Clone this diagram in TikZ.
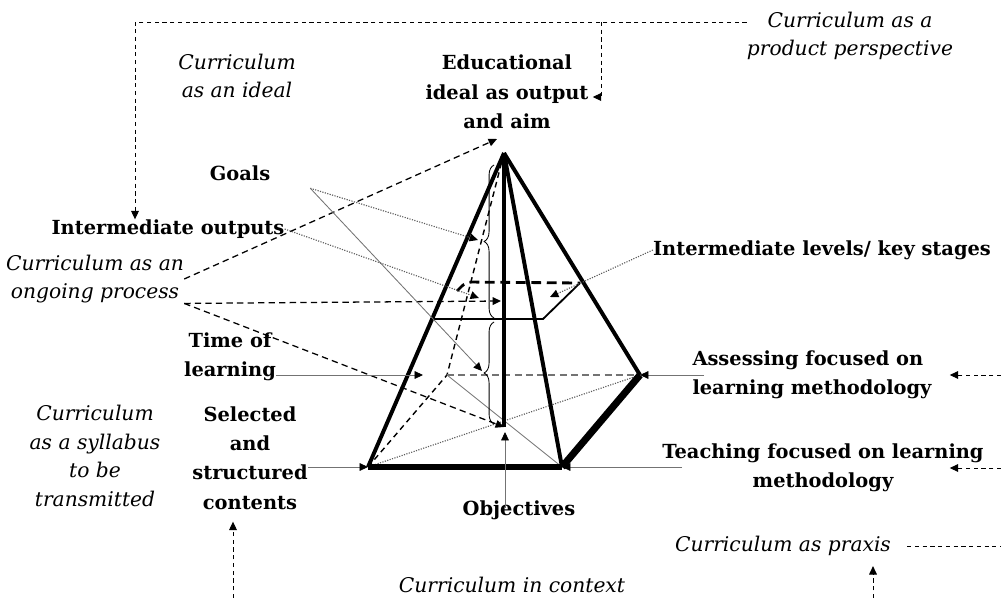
\documentclass[tikz,border=0pt]{standalone}
\usepackage{fontspec}
\setmainfont{DejaVu Serif}
\usetikzlibrary{arrows.meta,decorations.pathreplacing}

\begin{document}
\begin{tikzpicture}[
  x=0.025cm, y=-0.025cm,
  lbl/.style ={align=center, inner sep=0pt, font=\fontsize{13.8}{20.8}\selectfont\bfseries},
  ital/.style={align=center, inner sep=0pt, font=\fontsize{14.4}{20.2}\selectfont\itshape},
  outline/.style={line width=2.8pt},
  hidden/.style={line width=1pt, dash pattern=on 4pt off 3pt},
  tip/.style={-{Triangle[length=6pt,width=5.5pt,color=black]}},
  lead/.style={tip, draw=black!55, line width=0.6pt},
  dotlead/.style={tip, draw=black!65, densely dotted, line width=0.8pt},
  dashlead/.style={tip, line width=0.7pt, dash pattern=on 3pt off 2.5pt},
  ongo/.style={tip, line width=0.9pt, dash pattern=on 4.5pt off 3pt},
  brc/.style={decorate, decoration={brace, amplitude=7pt}, line width=0.6pt}
]
\useasboundingbox (0,0) rectangle (1001,598);

\coordinate (A)  at (504,153);
\coordinate (BL) at (368,467);
\coordinate (BR) at (562,467);
\coordinate (R)  at (640,375);
\coordinate (BK) at (447,375);
\coordinate (C)  at (504,427);
\coordinate (XL) at (430,319);
\coordinate (XF) at (543,319);
\coordinate (XR) at (580,283);
\coordinate (XB) at (466,282);
\coordinate (XK) at (457,291);

\node[ital] (ideal)    at (237,76)  {Curriculum\\as an ideal};
\node[ital] (product)  at (850,36)  {Curriculum as a\\product perspective};
\node[lbl]  (educ)     at (507,92)  {Educational\\ideal as output\\and aim};
\node[lbl, minimum width=3.5cm, minimum height=0.75cm] (goals) at (240,173) {Goals};
\node[lbl]  (interout) at (168,229) {Intermediate outputs};
\node[ital] (ongoing)  at (95,279)  {Curriculum as an\\ongoing process};
\node[lbl]  (levels)   at (822,250) {Intermediate levels/ key stages};
\node[lbl]  (time)     at (230,357) {Time of\\learning};
\node[lbl, align=left] (assess) at (812,375) {Assessing focused on\\learning methodology};
\node[ital] (syllabus) at (95,456)  {Curriculum\\as a syllabus\\to be\\transmitted};
\node[lbl]  (selected) at (250,458) {Selected\\and\\structured\\contents};
\node[lbl]  (teach)    at (823,468) {Teaching focused on learning\\methodology};
\node[lbl]  (obj)      at (519,510) {Objectives};
\node[ital] (praxis)   at (783,546) {Curriculum as praxis};
\node[ital] (context)  at (512,585) {Curriculum in context};

\draw[hidden] (BL) -- (BK) -- (A);
\draw[black!55, line width=1.3pt, dash pattern=on 5pt off 3pt] (BK) -- (R);
\draw[black!55, line width=0.6pt] (BK) -- (BR);
\draw[black!65, densely dotted, line width=0.8pt] (BL) -- (R);

\draw[brc] (494,318) -- (494,165);
\draw[brc] (494,424) -- (494,322);

\draw[outline] (A) -- (BL);
\draw[outline] (A) -- (BR);
\draw[outline] (A) -- (R);
\draw[outline] (A) -- (C);
\draw[line width=4.2pt] (BL) -- (BR);
\draw[line width=5pt] (BR) -- (R);
\draw[line width=1.3pt] (XL) -- (XF) -- (XR);
\draw[line width=2pt, dash pattern=on 7pt off 4pt, rounded corners=4pt] (XK) -- (XB) -- (XR);

\coordinate (topL) at (135,22);
\coordinate (topM) at (601,22);
\coordinate (turn) at (601,97);
\draw[dashlead] (product.west |- topL) -- (topL) -- (interout.north -| topL);
\draw[dashlead] (topM) -- (turn) -- ([xshift=1mm]educ.east |- turn);

\coordinate (Atop) at (497,139);
\coordinate (mid)  at (501,301);
\draw[ongo] (ongoing.east) -- (Atop);
\draw[ongo] (ongoing.south east) -- (mid);
\draw[ongo] (ongoing.south east) -- (C);

\draw[dotlead] (goals.south east) -- (478,240);
\draw[lead]    (goals.south east) -- (482,371);
\draw[dotlead] (interout.east) -- (479,298);
\draw[dotlead] (levels.west) -- (550,297);

\coordinate (Tl) at (423,375);
\draw[lead] (time.east |- Tl) -- (Tl);
\draw[lead] (selected.east |- BL) -- (BL);
\coordinate (Cup) at (505,432);
\draw[lead] ([yshift=-2mm]obj.north -| Cup) -- (Cup);
\draw[lead, shorten <=-3mm] (assess.west |- R) -- (R);
\draw[lead, shorten <=-5mm] (teach.west |- BR) -- (BR);

\coordinate (rA) at (1001,375);
\coordinate (rT) at (1001,468);
\draw[dashlead, shorten >=4.5mm] (rA) -- (assess.east |- rA);
\draw[dashlead, shorten >=4.5mm] (rT) -- (assess.east |- rT);
\draw[line width=0.7pt, dash pattern=on 3pt off 2.5pt, shorten <=4mm] (praxis.east) -- (praxis.east -| rA);

\coordinate (b1) at (233,598);
\coordinate (b2) at (873,598);
\draw[dashlead, shorten >=3mm] (b1) -- (selected.south -| b1);
\draw[dashlead, shorten >=2.5mm] (b2) -- (praxis.south -| b2);
\end{tikzpicture}
\end{document}
